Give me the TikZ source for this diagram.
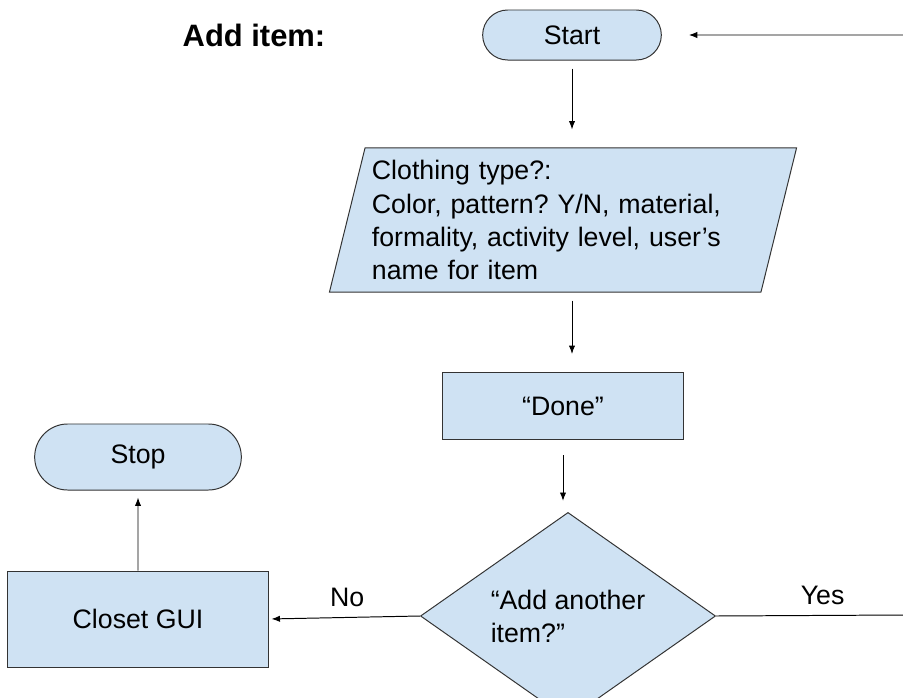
\documentclass[tikz,border=0pt]{standalone}
\usepackage{fontspec}
\setmainfont{Liberation Sans}
\usetikzlibrary{shapes.geometric, shapes.misc, arrows.meta}
\definecolor{gblue}{HTML}{CFE2F3}
\frenchspacing

\begin{document}
\begin{tikzpicture}[x = 0.025cm, y = -0.025cm,
    every node/.style = {font = \fontsize{19}{23.5}\selectfont},
    box/.style = {draw = black!80, fill = gblue, line width = 0.7pt},
    term/.style = {box, rounded rectangle},
    a/.style = {-{Latex[length = 6pt, width = 4.5pt]}, line width = 0.7pt}]
      \useasboundingbox (0, 0) rectangle (903, 698);

      \node [font = \bfseries\fontsize{22}{26}\selectfont] (title) at (254, 35) {Add item:};
      \node [term, minimum width = 4.7cm, minimum height = 1.25cm] (start) at (572, 35) {Start};
      \node [box, trapezium, trapezium left angle = 75, trapezium right angle = 105, trapezium stretches = true,
             minimum width = 11.7cm, minimum height = 3.6cm, text width = 9.55cm, align = left, inner xsep = 0pt] (input) at (563, 220)
        {Clothing type?:\\Color, pattern? Y/N, material,\\formality, activity level, user’s\\name for item};
      \node [box, minimum width = 6cm, minimum height = 1.675cm] (done) at (563, 406) {“Done”};
      \node [box, diamond, minimum width = 7.375cm, minimum height = 4.15cm, inner sep = 0pt, align = left] (decide) at (568, 616)
        {“Add another\\item?”};
      \node [box, minimum width = 6.5cm, minimum height = 2.4cm] (gui) at (138, 619) {Closet GUI};
      \node [term, minimum width = 5.4cm, minimum height = 1.65cm] (stop) at (138, 457) {Stop};

      \coordinate (backin) at (903, 35);
      \coordinate (yesend) at (903, 615);

      \draw [a, shorten > = 0.675cm] (backin) -- (start);
      \draw [a, shorten < = 0.2cm, shorten > = 0.45cm] (start.south) -- (start.south |- input.north);
      \draw [a, shorten < = 0.2cm, shorten > = 0.45cm] (start.south |- input.south) -- (start.south |- done.north);
      \draw [a, shorten < = 0.375cm, shorten > = 0.275cm] (done.south) -- (done.south |- decide.north);
      \draw [a, shorten > = 0.075cm] (decide.west) -- node[pos = .48, above = 4pt] {No} (gui.east);
      \draw [a, shorten > = 0.175cm] (gui) -- (stop);
      \draw [line width = 0.7pt] (decide.east) -- node[pos = .57, above = 4pt] {Yes} (yesend);
    \end{tikzpicture}
\end{document}
